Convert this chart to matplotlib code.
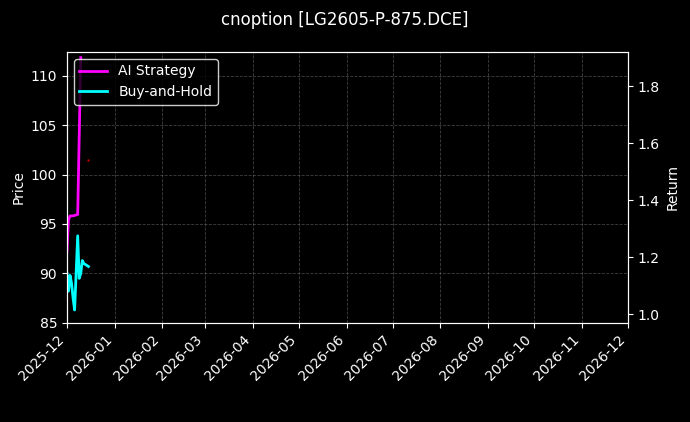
import matplotlib
matplotlib.use("Agg")
import matplotlib.pyplot as plt
import matplotlib.dates as mdates
import pandas as pd

bh_dates = pd.to_datetime(["2025-12-01","2025-12-02","2025-12-03","2025-12-04","2025-12-05","2025-12-06",
    "2025-12-08","2025-12-09","2025-12-10","2025-12-11","2025-12-12","2025-12-15"])
bh_price = [90.0, 88.2, 89.8, 89.0, 87.5, 86.3, 93.8, 89.5, 90.0, 91.3, 91.0, 90.7]
ai_dates = pd.to_datetime(["2025-12-01","2025-12-02","2025-12-03","2025-12-05","2025-12-08","2025-12-10"])
ai_return = [1.22, 1.33, 1.345, 1.345, 1.35, 1.90]
dot_date = pd.to_datetime(["2025-12-15"])
dot_price = [101.5]

plt.style.use("dark_background")
fig, ax = plt.subplots(figsize=(6.9, 4.22), dpi=100)
fig.patch.set_facecolor("black")
ax.set_facecolor("black")
ax2 = ax.twinx()
l2, = ax.plot(bh_dates, bh_price, color="cyan", lw=2, label="Buy-and-Hold")
ax.scatter(dot_date, dot_price, color="red", s=1, alpha=0.5)
l1, = ax2.plot(ai_dates, ai_return, color="magenta", lw=2, label="AI Strategy")
ax.set_ylim(85, 112.4)
ax2.set_ylim(0.97, 1.92)
ax.set_xlim(pd.Timestamp("2025-12-01"), pd.Timestamp("2026-12-01"))
ax.xaxis.set_major_locator(mdates.MonthLocator())
ax.xaxis.set_major_formatter(mdates.DateFormatter("%Y-%m"))
plt.setp(ax.get_xticklabels(), rotation=45, ha="right")
ax.grid(True, ls="--", color="gray", alpha=0.5, lw=0.6)
ax.set_ylabel("Price")
ax2.set_ylabel("Return")
ax2.legend([l1, l2], ["AI Strategy", "Buy-and-Hold"], loc="upper left", facecolor="black", edgecolor="white")
fig.suptitle("cnoption [LG2605-P-875.DCE]", y=0.975)
fig.subplots_adjust(left=0.097, right=0.91, top=0.877, bottom=0.235)
fig.savefig("out.png", dpi=100, facecolor="black")
